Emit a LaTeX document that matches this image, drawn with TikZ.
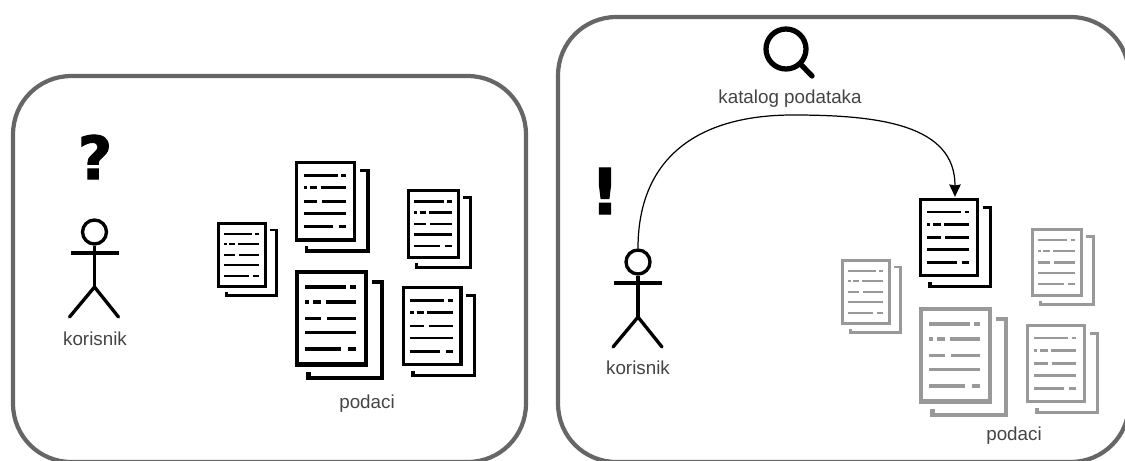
\documentclass[tikz,border=0pt]{standalone}
\usepackage{fontspec}
\setmainfont{Liberation Sans}
\newfontfamily\signfont[FakeBold=1.5]{DejaVu Sans Bold}
\usetikzlibrary{arrows.meta}

\definecolor{panelgrey}{HTML}{666666}
\definecolor{fadegrey}{HTML}{999999}
\definecolor{labelgrey}{HTML}{444444}

\tikzset{
  panel/.style={draw=panelgrey, line width=2.4pt, rounded corners=1.16cm, minimum height=#1, inner sep=0pt},
  label/.style={text=labelgrey, font=\fontsize{10.7}{12}\selectfont, inner sep=0pt},
  sign/.style={font=\signfont\fontsize{#1}{40}\selectfont, inner sep=0pt},
  head/.style={draw, circle, line width=1.9pt, minimum size=0.48cm, inner sep=0pt},
  limb/.style={line width=1.9pt}
}

% stick figure: name, x of the head, y of the head
\newcommand{\stickman}[3]{
  \node[head] (#1head) at (#2,#3) {};
  \coordinate (#1larm) at (#2-24,#3+21);
  \coordinate (#1rarm) at (#2+24,#3+21);
  \coordinate (#1hip) at (#2,#3+55);
  \coordinate (#1lfoot) at (#2-25,#3+85);
  \coordinate (#1rfoot) at (#2+24,#3+85);
  \draw[limb] (#1larm) -- (#1rarm);
  \draw[limb] (#1head) -- (#1hip);
  \draw[limb, line cap=round] (#1lfoot) -- (#1hip) -- (#1rfoot);
}

% document icon: name, x, y, scale, colour
\newcommand{\docicon}[5]{
  \begin{scope}[shift={(#2,#3)}, scale=#4, draw=#5, line width=#4*1.6pt]
    \coordinate (#1) at (30,-1);
    \draw (1.25,1.25) rectangle (48.75,64.75);
    \draw (53,8) -- (59.75,8) -- (59.75,73.75) -- (9.25,73.75) -- (9.25,70);
    \foreach \ya/\xa/\xb in {11.7/7/35, 11.7/38/42, 22/7/9.5, 22/12/18, 22/21/42,
        33/7/18, 33/22/42, 43/7/42, 54/7/31.5, 54/36/42}
      \draw[line width=#4*1.3pt] (\xa,\ya) -- (\xb,\ya);
  \end{scope}
}

\begin{document}
\begin{tikzpicture}[x=0.02cm, y=-0.02cm]
  \useasboundingbox (0,0) rectangle (1125,460);

  % Panels
  \node[panel=7.72cm, minimum width=10.26cm] (before) at (269.5,269) {};
  \node[panel=8.9cm, minimum width=11.42cm] (after) at (843.5,239.5) {};

  % Left side
  \node[sign=34] (question) at (95,157) {?};
  \stickman{user}{94.5}{232}
  \node[label] (userlabel) at (95,339) {korisnik};
  \docicon{docA}{217}{222}{1}{black}
  \docicon{docB}{295}{161}{1.22}{black}
  \docicon{docC}{407}{189}{1.06}{black}
  \docicon{docD}{295}{270}{1.46}{black}
  \docicon{docE}{402}{286}{1.21}{black}
  \node[label] (datalabel) at (367,404) {podaci};

  % Right side
  \node[sign=36] (exclaim) at (605,191) {!};
  \stickman{finder}{638}{262}
  \node[label] (finderlabel) at (638,368) {korisnik};
  \node[draw, circle, line width=3pt, minimum size=0.8cm, inner sep=0pt] (lens) at (786,49) {};
  \coordinate (grip) at (812,76);
  \draw[line width=3pt, line cap=round] (lens) -- (grip);
  \node[label] (cataloglabel) at (790,99) {katalog podataka};
  \docicon{docF}{919}{198}{1.2}{black}
  \docicon{docG}{841}{259}{1}{fadegrey}
  \docicon{docH}{919}{307}{1.46}{fadegrey}
  \docicon{docI}{1031}{228}{1.04}{fadegrey}
  \docicon{docJ}{1026}{324}{1.2}{fadegrey}
  \node[label] (foundlabel) at (1014,436) {podaci};

  % Arrows
  \draw[-{Stealth[length=7pt, width=6.5pt, inset=0.5pt]}, line width=0.7pt] (finderhead.north) .. controls (638,160) and (695,115) .. (793,115)
    .. controls (880,115) and (955,125) .. (docF);
\end{tikzpicture}
\end{document}
